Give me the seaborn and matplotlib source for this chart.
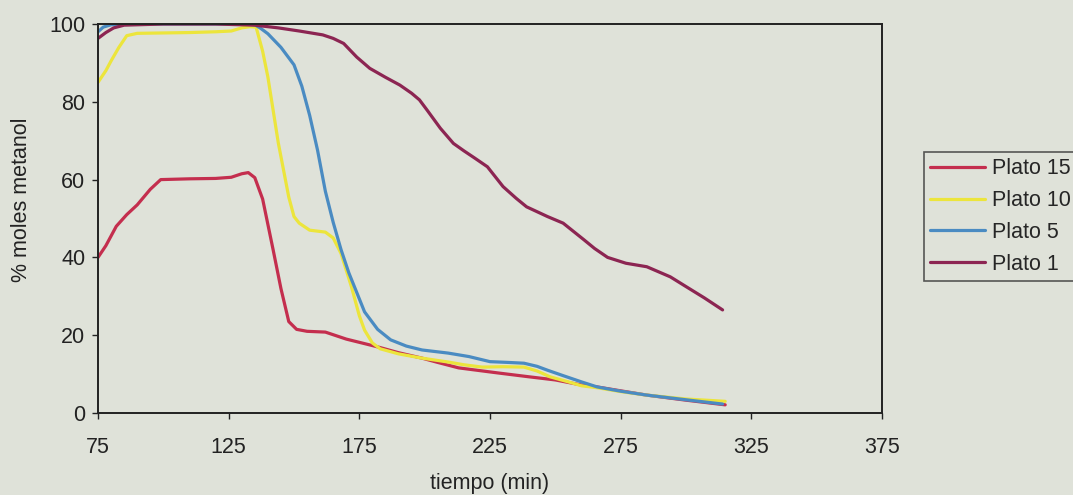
import matplotlib
matplotlib.use("Agg")
import matplotlib.pyplot as plt
import pandas as pd
import seaborn as sns

# Plato 15
t_p15 = [75, 78, 82, 86, 90, 95, 99, 110, 120, 126, 130, 132.5, 135, 138, 142, 145, 148, 151,
         155, 162, 170, 182, 190, 199, 205, 213, 228, 240, 250, 260, 266, 275, 285, 300, 315]
y_p15 = [40, 43, 48, 51, 53.5, 57.5, 60, 60.2, 60.3, 60.6, 61.5, 61.8, 60.5, 55, 42, 32, 23.5, 21.5,
         21, 20.8, 19, 17, 15.5, 14.1, 13, 11.6, 10.3, 9.3, 8.5, 7.2, 6.7, 5.7, 4.6, 3.3, 2.1]

# Plato 10
t_p10 = [75, 78, 80, 83, 86, 90, 100, 110, 120, 126, 130, 133, 135.5, 138, 140, 144, 148, 150, 152,
         156, 162, 165, 168, 172, 175, 177, 180, 183, 190, 199, 209, 215, 222, 230, 238, 243, 248,
         255, 260, 266, 275, 285, 300, 315]
y_p10 = [85, 88, 90.5, 94, 97, 97.6, 97.7, 97.8, 98, 98.2, 99, 99.3, 99.2, 93, 86.4, 69.4, 55.5, 50.5,
         48.8, 47, 46.5, 45, 41, 32.4, 25, 21.3, 18, 16.5, 15.2, 14.1, 13.1, 12.4, 11.8, 11.9, 11.8,
         10.8, 9.3, 8, 7, 6.5, 5.5, 4.6, 3.6, 3.0]

# Plato 5
t_p5 = [75, 77, 80, 85, 100, 120, 130, 135, 137, 140, 145, 150, 153, 156, 159, 162, 165, 168, 171,
        174, 177, 182, 187, 193, 199, 209, 217, 225, 232, 238, 243, 247, 253, 260, 266, 275, 285,
        300, 314]
y_p5 = [98, 99.2, 99.8, 100, 100, 100, 100, 99.8, 99, 97.5, 94, 89.5, 84, 76.5, 67.6, 57, 49, 42, 36,
        31, 26, 21.5, 18.8, 17.2, 16.2, 15.4, 14.5, 13.2, 13, 12.8, 12, 11, 9.6, 8, 6.7, 5.6, 4.6,
        3.4, 2.3]

# Plato 1
t_p1 = [75, 78, 81, 85, 100, 120, 130, 135, 144, 152, 161, 165, 169, 174, 179, 185, 190.5, 195, 198,
        201, 206, 211, 215, 219, 224, 230, 235, 239, 247, 253, 261, 265, 270, 277, 285, 294, 300,
        307, 314]
y_p1 = [96.3, 97.8, 99, 99.7, 100, 100, 99.8, 99.7, 99, 98.2, 97.2, 96.3, 95, 91.5, 88.6, 86.3, 84.3,
        82.2, 80.5, 77.8, 73.2, 69.3, 67.4, 65.6, 63.3, 58.2, 55.2, 53, 50.5, 48.8, 44.5, 42.3, 40,
        38.5, 37.6, 35, 32.5, 29.6, 26.5]

series_names = ["Plato 15", "Plato 10", "Plato 5", "Plato 1"]
series_colors = ["#c42e4e", "#ece53c", "#4a8bc2", "#8c2552"]
x_ticks = [75, 125, 175, 225, 275, 325, 375]
y_ticks = [0, 20, 40, 60, 80, 100]

frames = []
for name, t, y in zip(series_names, [t_p15, t_p10, t_p5, t_p1], [y_p15, y_p10, y_p5, y_p1]):
    frames.append(pd.DataFrame({"tiempo": t, "metanol": y, "plato": name}))
df = pd.concat(frames, ignore_index=True)

bg = "#dfe2d9"
sns.set_theme(style="ticks", rc={"axes.facecolor": bg, "figure.facecolor": bg})
plt.rcParams["font.family"] = ["Liberation Sans", "DejaVu Sans"]

fig = plt.figure(figsize=(10.73, 4.95), dpi=100)
ax = fig.add_axes([98 / 1073, 82 / 495, 784 / 1073, 389 / 495])

sns.lineplot(data=df, x="tiempo", y="metanol", hue="plato", hue_order=series_names,
             palette=series_colors, linewidth=2.3, sort=True, ax=ax)

ax.set_xlim(75, 375)
ax.set_ylim(0, 100)
ax.set_xticks(x_ticks)
ax.set_yticks(y_ticks)
ax.tick_params(axis="both", labelsize=15.5, colors="#222222", length=4, width=1, direction="out")
ax.tick_params(axis="x", pad=13)
ax.tick_params(axis="y", pad=5)
for side in ["top", "right", "left", "bottom"]:
    ax.spines[side].set_visible(True)
    ax.spines[side].set_color("#222222")
    ax.spines[side].set_linewidth(1.4)

ax.set_xlabel("tiempo (min)", fontsize=15.5, color="#222222", va="center")
ax.set_ylabel("% moles metanol", fontsize=15.5, color="#222222", va="center")
ax.xaxis.set_label_coords(0.5, -0.18)
ax.yaxis.set_label_coords(-0.097, 0.548)

leg = ax.legend(loc="upper left", bbox_to_anchor=(924 / 1073, 1 - 152 / 495),
                bbox_transform=fig.transFigure, fontsize=15.5, frameon=True, fancybox=False,
                handlelength=2.55, handletextpad=0.3, labelspacing=0.5, borderpad=0.3,
                borderaxespad=0)
leg.get_frame().set_edgecolor("#333333")
leg.get_frame().set_facecolor(bg)
leg.get_frame().set_linewidth(1.2)
for line in leg.get_lines():
    line.set_linewidth(2.3)

fig.savefig("out.png", dpi=100, facecolor=bg)
